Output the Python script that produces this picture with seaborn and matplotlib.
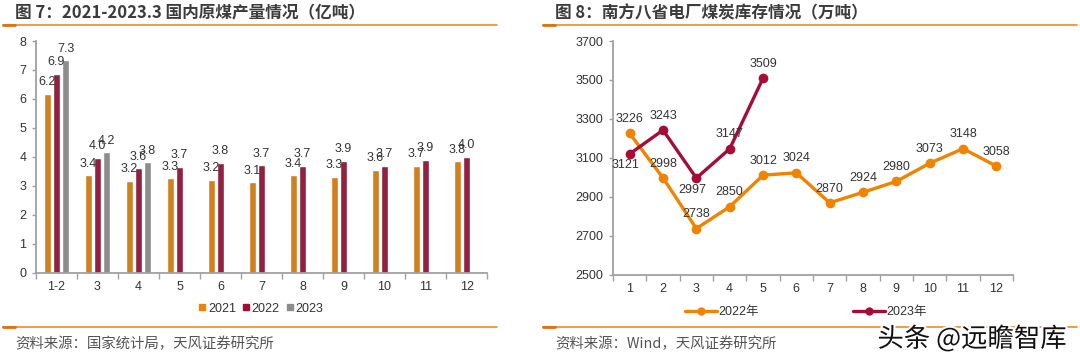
import pandas as pd
import numpy as np
import matplotlib.pyplot as plt
import matplotlib.patheffects as pe
from matplotlib.lines import Line2D
import seaborn as sns

sns.set_theme(style="white")
plt.rcParams['font.family'] = ['Liberation Sans', 'Noto Sans CJK SC', 'DejaVu Sans']
plt.rcParams['axes.unicode_minus'] = False

# ---- data: figure 7, raw coal output (100 million tonnes)
periods = ['1-2', '3', '4', '5', '6', '7', '8', '9', '10', '11', '12']
out_2021 = [6.17, 3.37, 3.18, 3.26, 3.21, 3.12, 3.36, 3.31, 3.56, 3.70, 3.84]
out_2022 = [6.86, 3.96, 3.60, 3.66, 3.79, 3.71, 3.69, 3.86, 3.69, 3.90, 4.01]
out_2023 = [7.34, 4.16, 3.81]

# ---- data: figure 8, coal stock at power plants in 8 southern provinces (10k tonnes)
months = [1, 2, 3, 4, 5, 6, 7, 8, 9, 10, 11, 12]
stock_2022 = [3226, 2998, 2738, 2850, 3012, 3024, 2870, 2924, 2980, 3073, 3148, 3058]
stock_2023 = [3121, 3243, 2997, 3147, 3509]

ORANGE = '#F08300'
RED = '#A50D38'
GRAY = '#8C8C8C'
RULE = '#F0892B'
AXIS = '#A0A0A0'
TXT = '#333333'

bars = pd.DataFrame({
    'period': periods * 3,
    'year': ['2021'] * len(periods) + ['2022'] * len(periods) + ['2023'] * len(periods),
    'value': out_2021 + out_2022 + out_2023 + [np.nan] * (len(periods) - len(out_2023)),
})

lines = pd.DataFrame({
    'month': months * 2,
    'year': ['2022年'] * len(months) + ['2023年'] * len(months),
    'value': stock_2022 + stock_2023 + [np.nan] * (len(months) - len(stock_2023)),
})

fig = plt.figure(figsize=(10.8, 3.55), dpi=100)
ax1 = fig.add_axes([0.0333, 0.2318, 0.4177, 0.6527])
ax2 = fig.add_axes([0.5676, 0.2254, 0.3704, 0.6591])

# ---------- left: grouped bars
sns.barplot(data=bars, x='period', y='value', hue='year', order=periods,
            palette=[ORANGE, RED, GRAY], width=0.66, gap=0.2,
            ax=ax1, legend=False)
for cont in ax1.containers:
    for rect in cont:
        h = rect.get_height()
        if np.isnan(h) or h == 0:
            continue
        ax1.annotate(f'{h:.1f}', (rect.get_x() + rect.get_width() / 2, h),
                     xytext=(0, 4), textcoords='offset points',
                     ha='center', va='bottom', fontsize=9, color=TXT)
ax1.set_ylim(0, 8)
ax1.set_xlim(-0.5, len(periods) - 0.5)
ax1.set_yticks(range(0, 9))
ax1.set_xlabel('')
ax1.set_ylabel('')

handles = [Line2D([], [], marker='s', ls='', color=c, markersize=5) for c in [ORANGE, RED, GRAY]]
fig.legend(handles, ['2021', '2022', '2023'], loc='center', bbox_to_anchor=(0.241, 0.13),
           ncol=3, frameon=False, fontsize=9, handletextpad=0.05, columnspacing=0.4,
           handlelength=0.8, labelcolor=TXT)

# ---------- right: lines
sns.lineplot(data=lines, x='month', y='value', hue='year', palette=[ORANGE, RED],
             marker='o', markersize=7, markeredgewidth=0, linewidth=2.4,
             ax=ax2, legend=False)
below = {('2023年', 0), ('2023年', 2)}
for name, vals in [('2022年', stock_2022), ('2023年', stock_2023)]:
    for i, v in enumerate(vals):
        if (name, i) in below:
            ax2.annotate(f'{v}', (months[i], v), xytext=(-3, -4), textcoords='offset points',
                         ha='center', va='top', fontsize=9, color=TXT)
        else:
            ax2.annotate(f'{v}', (months[i], v), xytext=(0, 6), textcoords='offset points',
                         ha='center', va='bottom', fontsize=9, color=TXT)
ax2.set_ylim(2500, 3700)
ax2.set_yticks(range(2500, 3701, 200))
ax2.set_xlim(0.5, 12.5)
ax2.set_xticks(months)
ax2.set_xlabel('')
ax2.set_ylabel('')

lh = [Line2D([], [], color=ORANGE, lw=2.4, marker='o', markersize=5),
      Line2D([], [], color=RED, lw=2.4, marker='o', markersize=5)]
fig.legend(lh, ['2022年', '2023年'], loc='center', bbox_to_anchor=(0.746, 0.121),
           ncol=2, frameon=False, fontsize=9, handlelength=2.6, handletextpad=0.1,
           columnspacing=7.5, labelcolor=TXT)

# ---------- axis styling
for ax in (ax1, ax2):
    for s in ['top', 'right']:
        ax.spines[s].set_visible(False)
    for s in ['left', 'bottom']:
        ax.spines[s].set_color(AXIS)
        ax.spines[s].set_linewidth(1.3)
    lo, hi = ax.get_xlim()
    ax.set_xticks(np.arange(lo, hi + 0.01, 1.0), minor=True)
    ax.tick_params(axis='x', which='major', length=0, labelsize=9, labelcolor=TXT, pad=6)
    ax.tick_params(axis='x', which='minor', length=4, width=1, color=AXIS, direction='out', bottom=True)
    ax.tick_params(axis='y', length=3, width=1, color=AXIS, direction='out', left=True,
                   labelsize=9, labelcolor=TXT, pad=4)
    ax.grid(False)

# ---------- titles, rules, sources
cjk = ['Noto Sans CJK SC', 'DejaVu Sans']
fig.text(0.014, 0.962, '图 7：2021-2023.3 国内原煤产量情况（亿吨）', fontsize=12,
         fontweight='bold', color='#3C3C3C', family=cjk, va='center')
fig.text(0.514, 0.962, '图 8：南方八省电厂煤炭库存情况（万吨）', fontsize=12,
         fontweight='bold', color='#3C3C3C', family=cjk, va='center')
fig.text(0.014, 0.032, '资料来源：国家统计局，天风证券研究所', fontsize=10.4,
         color='#555555', family=cjk, va='center')
fig.text(0.514, 0.032, '资料来源：Wind，天风证券研究所', fontsize=10.4,
         color='#555555', family=cjk, va='center')

for x0, x1 in [(0.003, 0.460), (0.503, 0.997)]:
    for y in (0.929, 0.079):
        fig.add_artist(Line2D([x0, x1], [y, y], color=RULE, lw=1.2, transform=fig.transFigure))
        fig.add_artist(Line2D([x0, x0 + 0.011], [y, y], color='#E07010', lw=2.0,
                              transform=fig.transFigure))

fig.text(0.9, 0.045, '头条 @远瞻智库', fontsize=19, color='#111111', family=cjk,
         ha='center', va='center',
         path_effects=[pe.withStroke(linewidth=3, foreground='white')])

fig.savefig('out.png', dpi=100)
